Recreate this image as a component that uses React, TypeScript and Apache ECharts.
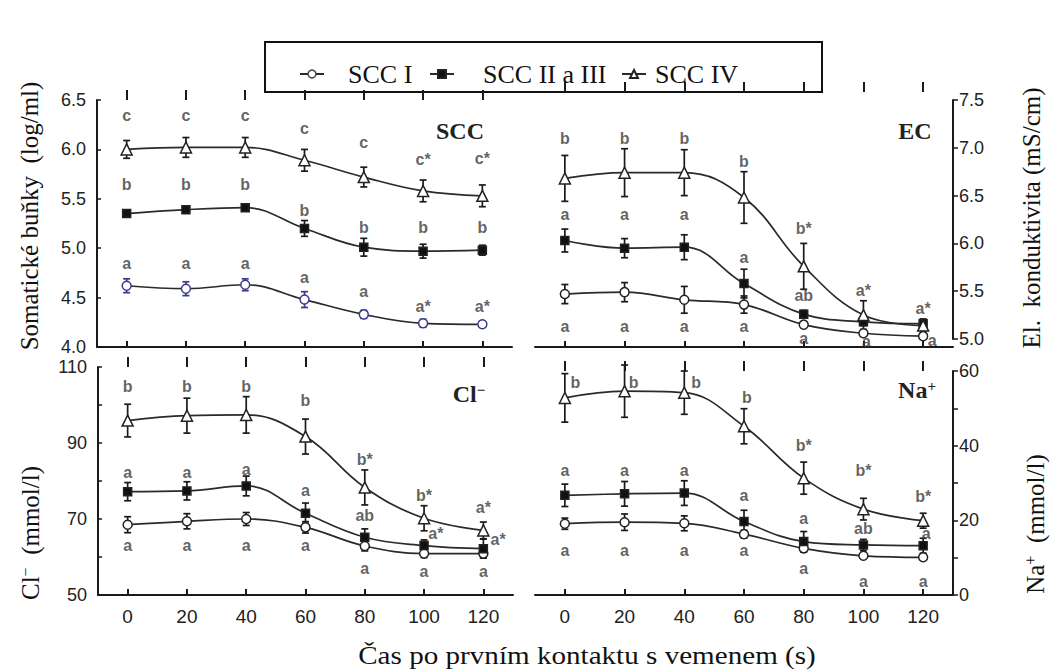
import React, { useEffect, useRef } from "react";
import * as echarts from "echarts";

const times = [0, 20, 40, 60, 80, 100, 120];
const groups = ["SCC I", "SCC II a III", "SCC IV"];

// SCC (log/ml)
const sccI = [4.62, 4.59, 4.63, 4.48, 4.33, 4.24, 4.23];
const sccIErr = [0.07, 0.07, 0.06, 0.08, 0.04, 0.04, 0.03];
const sccII = [5.35, 5.39, 5.41, 5.2, 5.01, 4.97, 4.98];
const sccIIErr = [0.02, 0.03, 0.03, 0.08, 0.09, 0.07, 0.05];
const sccIV = [6.0, 6.02, 6.02, 5.89, 5.72, 5.58, 5.53];
const sccIVErr = [0.09, 0.1, 0.1, 0.11, 0.1, 0.11, 0.11];
const sccLetters: [number, number, string][] = [
  [0, 6.34, "c"], [20, 6.34, "c"], [40, 6.34, "c"], [60, 6.21, "c"], [80, 6.07, "c"], [100, 5.9, "c*"], [120, 5.91, "c*"],
  [0, 5.64, "b"], [20, 5.64, "b"], [40, 5.64, "b"], [60, 5.38, "b"], [80, 5.21, "b"], [100, 5.21, "b"], [120, 5.21, "b"],
  [0, 4.85, "a"], [20, 4.85, "a"], [40, 4.85, "a"], [60, 4.7, "a"], [80, 4.56, "a"], [100, 4.41, "a*"], [120, 4.41, "a*"],
];

// EC (mS/cm)
const ecI = [5.47, 5.49, 5.41, 5.36, 5.15, 5.06, 5.03];
const ecIErr = [0.1, 0.1, 0.14, 0.09, 0.03, 0.03, 0.03];
const ecII = [6.03, 5.95, 5.96, 5.58, 5.26, 5.18, 5.16];
const ecIIErr = [0.12, 0.1, 0.13, 0.15, 0.04, 0.04, 0.05];
const ecIV = [6.68, 6.74, 6.74, 6.48, 5.76, 5.25, 5.14];
const ecIVErr = [0.24, 0.25, 0.24, 0.27, 0.24, 0.15, 0.06];
const ecLetters: [number, number, string][] = [
  [0, 7.1, "b"], [20, 7.1, "b"], [40, 7.1, "b"], [60, 6.86, "b"], [80, 6.16, "b*"], [100, 5.51, "a*"], [120, 5.32, "a*"],
  [0, 6.3, "a"], [20, 6.3, "a"], [40, 6.3, "a"], [60, 5.85, "a"], [80, 5.46, "ab"],
  [0, 5.13, "a"], [20, 5.13, "a"], [40, 5.13, "a"], [60, 5.13, "a"], [80, 5.01, "a"], [101, 4.97, "a"], [123, 4.98, "a"],
];

// Cl- (mmol/l)
const clI = [68.5, 69.4, 70.0, 67.8, 62.9, 60.9, 60.9];
const clIErr = [2.1, 2.0, 1.7, 1.5, 1.3, 1.0, 1.0];
const clII = [77.2, 77.4, 78.7, 71.5, 65.2, 63.0, 62.2];
const clIIErr = [2.4, 2.4, 2.6, 2.7, 2.2, 1.5, 2.5];
const clIV = [95.9, 97.2, 97.4, 91.7, 78.3, 70.2, 67.0];
const clIVErr = [4.3, 4.6, 4.8, 4.6, 4.6, 3.3, 2.2];
const clLetters: [number, number, string][] = [
  [0, 104.8, "b"], [20, 104.8, "b"], [40, 104.8, "b"], [60, 101.3, "b"], [80, 85.7, "b*"], [100, 76.1, "b*"], [120, 73.0, "a*"],
  [0, 82.3, "a"], [20, 82.3, "a"], [40, 83.0, "a"], [60, 77.4, "a"], [80, 71.0, "ab"], [104, 66.3, "a*"], [125, 64.5, "a*"],
  [0, 62.9, "a"], [20, 62.9, "a"], [40, 62.9, "a"], [60, 62.9, "a"], [80, 57.0, "a"], [100, 56.1, "a"], [120, 56.1, "a"],
];

// Na+ (mmol/l)
const naI = [19.1, 19.5, 19.2, 16.3, 12.5, 10.5, 10.1];
const naIErr = [1.5, 2.2, 2.0, 1.0, 1.0, 0.7, 0.7];
const naII = [26.7, 27.1, 27.3, 19.7, 14.3, 13.4, 13.2];
const naIIErr = [3.0, 3.3, 3.3, 3.0, 2.7, 1.5, 2.0];
const naIV = [52.8, 54.6, 54.2, 45.2, 31.3, 23.0, 19.9];
const naIVErr = [6.5, 7.0, 5.8, 4.7, 4.3, 2.9, 2.0];
const naLetters: [number, number, string][] = [
  [3.5, 56.8, "b"], [23, 56.8, "b"], [44, 56.8, "b"], [61, 52.8, "b"], [80, 40.0, "b*"], [100, 33.3, "b*"], [120, 26.4, "b*"],
  [0, 33.3, "a"], [20, 33.3, "a"], [40, 33.3, "a"], [60, 26.6, "a"], [80, 20.4, "a"], [100, 17.9, "ab"], [121, 16.6, "a"],
  [0, 11.9, "a"], [20, 11.9, "a"], [40, 11.9, "a"], [60, 11.9, "a"], [80, 7.2, "a"], [100, 3.6, "a"], [120, 3.6, "a"],
];

const SANS = "Liberation Sans";
const SERIF = "Liberation Serif";
const INK = "#1a1a1a";

const panels = [
  {
    grid: { left: 97, top: 100, width: 415, height: 247 },
    y: { min: 4, max: 6.5, interval: 0.5, position: "left", fmt: (v: number) => v.toFixed(1) },
    vals: [sccI, sccII, sccIV], errs: [sccIErr, sccIIErr, sccIVErr], letters: sccLetters,
    xLabels: false, xOffset: 0, blueI: true,
  },
  {
    grid: { left: 535, top: 100, width: 418, height: 239 },
    y: { min: 5, max: 7.5, interval: 0.5, position: "right", fmt: (v: number) => v.toFixed(1) },
    vals: [ecI, ecII, ecIV], errs: [ecIErr, ecIIErr, ecIVErr], letters: ecLetters,
    xLabels: false, xOffset: 8, blueI: false,
  },
  {
    grid: { left: 98, top: 367, width: 415, height: 228 },
    y: { min: 50, max: 110, interval: 10, position: "left", fmt: (v: number) => ((v - 50) % 20 === 0 ? String(v) : "") },
    vals: [clI, clII, clIV], errs: [clIErr, clIIErr, clIVErr], letters: clLetters,
    xLabels: true, xOffset: 0, blueI: false,
  },
  {
    grid: { left: 535, top: 371, width: 418, height: 224 },
    y: { min: 0, max: 60, interval: 10, position: "right", fmt: (v: number) => (v % 20 === 0 ? String(v) : "") },
    vals: [naI, naII, naIV], errs: [naIErr, naIIErr, naIVErr], letters: naLetters,
    xLabels: true, xOffset: 0, blueI: false,
  },
];

const symbols = ["circle", "rect", "triangle"];
const symbolSizes = [9, 8, 11];
const fills = ["#ffffff", "#111111", "#ffffff"];
const BLUE = "#3a3a8c";

function buildOption() {
  const grid = panels.map((p) => p.grid);
  const xAxis: any[] = [];
  const yAxis: any[] = [];
  const series: any[] = [];
  panels.forEach((p, i) => {
    const axisBase = {
      type: "value",
      gridIndex: i,
      min: -10,
      max: 130,
      offset: p.xOffset,
      splitLine: { show: false },
    };
    xAxis.push({
      ...axisBase,
      axisLine: { show: true, onZero: false, lineStyle: { color: INK, width: 2 } },
      axisTick: { show: true, inside: true, length: 6, customValues: times, lineStyle: { color: INK, width: 2 } },
      axisLabel: {
        show: p.xLabels, customValues: times, margin: 12, fontSize: 19, fontFamily: SANS, color: "#222",
      },
    });
    xAxis.push({
      ...axisBase,
      axisLine: { show: false, onZero: false },
      axisTick: { show: true, inside: false, length: 10, customValues: times, lineStyle: { color: INK, width: 2 } },
      axisLabel: { show: false },
    });
    const isLeft = p.y.position === "left";
    yAxis.push({
      type: "value",
      gridIndex: i,
      position: p.y.position,
      min: p.y.min,
      max: p.y.max,
      interval: p.y.interval,
      splitLine: { show: false },
      axisLine: { show: true, onZero: false, lineStyle: { color: INK, width: 2 } },
      axisTick: { show: true, inside: isLeft, length: isLeft ? 4 : 5, lineStyle: { color: INK, width: 1.5 } },
      axisLabel: {
        formatter: p.y.fmt, fontSize: 18, fontFamily: SANS, color: "#222", lineHeight: 14,
        margin: isLeft ? 11 : 6,
      },
    });
    const xi = 2 * i;
    // lines
    p.vals.forEach((vals, g) => {
      const stroke = g === 0 && p.blueI ? BLUE : "#222";
      series.push({
        type: "line",
        name: groups[g],
        xAxisIndex: xi,
        yAxisIndex: i,
        data: times.map((t, k) => [t, vals[k]]),
        smooth: 0.4,
        symbol: symbols[g],
        symbolSize: symbolSizes[g],
        showSymbol: true,
        lineStyle: { color: "#2a2a2a", width: 1.7 },
        itemStyle: { color: fills[g], borderColor: stroke, borderWidth: 1.5 },
        z: 3,
      });
    });
    // error bars
    const errData: number[][] = [];
    p.vals.forEach((vals, g) => {
      times.forEach((t, k) => {
        errData.push([t, vals[k] - p.errs[g][k], vals[k] + p.errs[g][k], g]);
      });
    });
    const blueI = p.blueI;
    series.push({
      type: "custom",
      xAxisIndex: xi,
      yAxisIndex: i,
      data: errData,
      encode: { x: 0, y: [1, 2] },
      z: 2,
      silent: true,
      renderItem: (params: any, api: any) => {
        const x = api.value(0);
        const lo = api.coord([x, api.value(1)]);
        const hi = api.coord([x, api.value(2)]);
        const g = api.value(3);
        const color = g === 0 && blueI ? BLUE : "#1a1a1a";
        const w = 3.5;
        const st = { stroke: color, lineWidth: 1.7 };
        return {
          type: "group",
          children: [
            { type: "line", shape: { x1: lo[0], y1: lo[1], x2: hi[0], y2: hi[1] }, style: st },
            { type: "line", shape: { x1: lo[0] - w, y1: lo[1], x2: lo[0] + w, y2: lo[1] }, style: st },
            { type: "line", shape: { x1: hi[0] - w, y1: hi[1], x2: hi[0] + w, y2: hi[1] }, style: st },
          ],
        };
      },
    });
    // letters
    series.push({
      type: "scatter",
      xAxisIndex: xi,
      yAxisIndex: i,
      data: p.letters.map((l) => [l[0], l[1], l[2]]),
      symbolSize: 1,
      itemStyle: { color: "rgba(0,0,0,0)" },
      silent: true,
      clip: false,
      z: 5,
      label: {
        show: true,
        position: "inside",
        formatter: (d: any) => d.value[2],
        fontFamily: SANS,
        fontSize: 16,
        fontWeight: "bold",
        color: "#3a3a3a",
      },
    });
  });

  const legendPos = [
    { left: 294, pad: 19 },
    { left: 424, pad: 24 },
    { left: 616, pad: 4 },
  ];
  const legend = groups.map((g, i) => ({
    data: [
      i === 0
        ? { name: g, itemStyle: { color: "#fff", borderColor: "#444", borderWidth: 1.5 } }
        : { name: g },
    ],
    left: legendPos[i].left,
    top: 56,
    itemWidth: 24,
    itemHeight: 10,
    selectedMode: false,
    textStyle: {
      fontFamily: SERIF,
      fontSize: 26,
      color: "#111",
      padding: [0, 0, 0, legendPos[i].pad],
    },
  }));

  const titleStyle = (text: string, x: number, y: number, rich?: any) => ({
    type: "text",
    x,
    y,
    z: 10,
    style: {
      text,
      fill: "#222",
      fontFamily: SERIF,
      fontSize: 24,
      fontWeight: "bold",
      align: "center",
      verticalAlign: "middle",
      textAlign: "center",
      textVerticalAlign: "middle",
      rich,
    },
  });
  const supBold = { s: { fontFamily: SERIF, fontSize: 15, fontWeight: "bold", fill: "#222", verticalAlign: "top" } };
  const supReg = { s: { fontFamily: SERIF, fontSize: 16, fill: "#111", verticalAlign: "top" } };
  const axisName = (text: string, x: number, y: number, rich?: any) => ({
    type: "text",
    x,
    y,
    rotation: Math.PI / 2,
    z: 10,
    style: {
      text,
      fill: "#111",
      fontFamily: SERIF,
      fontSize: 25,
      align: "center",
      verticalAlign: "middle",
      textAlign: "center",
      textVerticalAlign: "middle",
      rich,
    },
  });

  const graphic = [
    {
      type: "rect",
      shape: { x: 265, y: 42, width: 557, height: 50 },
      style: { fill: "rgba(0,0,0,0)", stroke: "#111", lineWidth: 2 },
      z: 0,
    },
    titleStyle("SCC", 460, 131),
    titleStyle("EC", 915, 131),
    titleStyle("Cl{s|\u2212}", 469, 394, supBold),
    titleStyle("Na{s|+}", 917, 390, supBold),
    axisName("Somatické buňky  (log/ml)", 29, 216),
    axisName("El.  konduktivita (mS/cm)", 1031, 218),
    axisName("Cl{s|\u2212}  (mmol/l)", 30, 533, supReg),
    axisName("Na{s|+}  (mmol/l)", 1035, 524, supReg),
    {
      type: "text",
      x: 587,
      y: 655,
      scaleX: 1.12,
      z: 10,
      style: {
        text: "Čas po prvním kontaktu s vemenem (s)",
        fill: "#111",
        fontFamily: SERIF,
        fontSize: 26,
        align: "center",
        verticalAlign: "middle",
        textAlign: "center",
        textVerticalAlign: "middle",
      },
    },
  ];

  return {
    animation: false,
    backgroundColor: "#ffffff",
    legend,
    grid,
    xAxis,
    yAxis,
    series,
    graphic,
  };
}

export default function App() {
  const ref = useRef<HTMLDivElement>(null);
  useEffect(() => {
    if (!ref.current) return;
    const chart = echarts.init(ref.current, undefined, { renderer: "svg" });
    chart.setOption(buildOption() as any);
    return () => chart.dispose();
  }, []);
  return (
    <div
      ref={ref}
      style={{ position: "fixed", left: 0, top: 0, width: 1056, height: 672, background: "#fff" }}
    />
  );
}
